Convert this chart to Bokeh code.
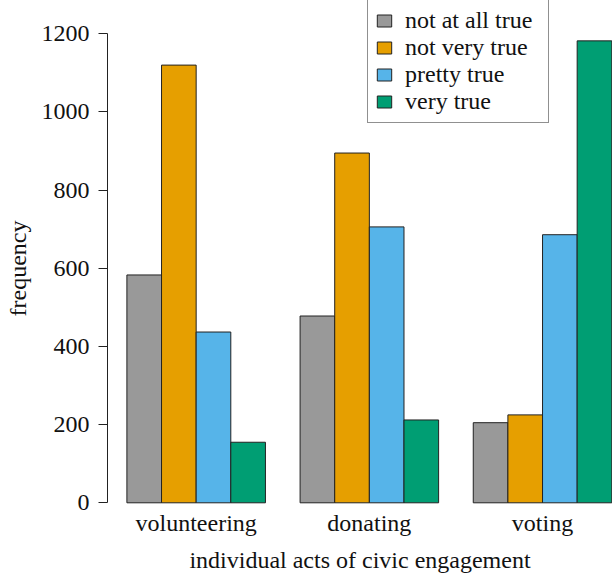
from bokeh.plotting import figure
from bokeh.models import Range1d, FixedTicker, Legend, LegendItem, ColumnDataSource
from bokeh.embed import file_html
from bokeh.resources import INLINE

categories = ["volunteering", "donating", "voting"]
series_names = ["not at all true", "not very true", "pretty true", "very true"]
not_at_all_true = [583, 478, 205]
not_very_true = [1120, 895, 225]
pretty_true = [437, 706, 686]
very_true = [155, 212, 1182]
series_values = [not_at_all_true, not_very_true, pretty_true, very_true]
colors = ["#999999", "#E69F00", "#56B4E9", "#009E73"]
y_ticks = [0, 200, 400, 600, 800, 1000, 1200]

FONT = "Liberation Serif"
FRAME_W, FRAME_H = 505, 536

p = figure(frame_width=FRAME_W, frame_height=FRAME_H,
           x_range=Range1d(0.44, 15.02), y_range=Range1d(-86.2, 1285.3),
           output_backend="svg", toolbar_location=None,
           min_border_left=107, min_border_right=0, min_border_top=0, min_border_bottom=38)
p.outline_line_color = None
p.xgrid.visible = False
p.ygrid.visible = False

n_series = len(series_values)
group_width = n_series + 1
renderers = []
for i, (vals, col) in enumerate(zip(series_values, colors)):
    xs = [g * group_width + 1 + i + 0.5 for g in range(len(categories))]
    src = ColumnDataSource(dict(x=xs, top=vals))
    r = p.vbar(x="x", top="top", bottom=0, width=1.0, source=src,
               fill_color=col, line_color="#222222", line_width=1)
    renderers.append(r)

centers = [g * group_width + 1 + n_series / 2 for g in range(len(categories))]

# y axis
yax = p.yaxis[0]
yax.ticker = FixedTicker(ticks=y_ticks)
yax.bounds = (y_ticks[0], y_ticks[-1])
yax.minor_tick_line_color = None
yax.major_tick_in = 0
yax.major_tick_out = 9
yax.axis_line_color = "#222222"
yax.major_tick_line_color = "#222222"
yax.major_label_text_font = FONT
yax.major_label_text_font_size = "24px"
yax.major_label_text_color = "#111111"
yax.major_label_standoff = 9
yax.axis_label = "frequency"
yax.axis_label_text_font = FONT
yax.axis_label_text_font_size = "24px"
yax.axis_label_text_font_style = "normal"
yax.axis_label_text_color = "#111111"
yax.axis_label_standoff = 8

# x axis
xax = p.xaxis[0]
xax.ticker = FixedTicker(ticks=centers)
xax.major_label_overrides = {c: lab for c, lab in zip(centers, categories)}
xax.axis_line_color = None
xax.major_tick_line_color = None
xax.minor_tick_line_color = None
xax.major_tick_in = 0
xax.major_tick_out = 0
xax.major_label_text_font = FONT
xax.major_label_text_font_size = "24px"
xax.major_label_text_color = "#111111"
xax.major_label_standoff = -27
xax.axis_label = "individual acts of civic engagement"
xax.axis_label_text_font = FONT
xax.axis_label_text_font_size = "24px"
xax.axis_label_text_font_style = "normal"
xax.axis_label_text_color = "#111111"
xax.axis_label_standoff = 8

legend = Legend(items=[LegendItem(label=n, renderers=[r]) for n, r in zip(series_names, renderers)],
                location=(260, 413))
legend.border_line_color = "#222222"
legend.border_line_width = 1
legend.background_fill_color = "white"
legend.background_fill_alpha = 1
legend.padding = 7
legend.margin = 0
legend.spacing = 0
legend.label_standoff = 12
legend.glyph_width = 18
legend.glyph_height = 15
legend.label_height = 26
legend.label_width = 136
legend.label_text_font = FONT
legend.label_text_font_size = "24px"
legend.label_text_color = "#111111"
p.add_layout(legend)

open("out.html", "w").write(file_html(p, INLINE))
